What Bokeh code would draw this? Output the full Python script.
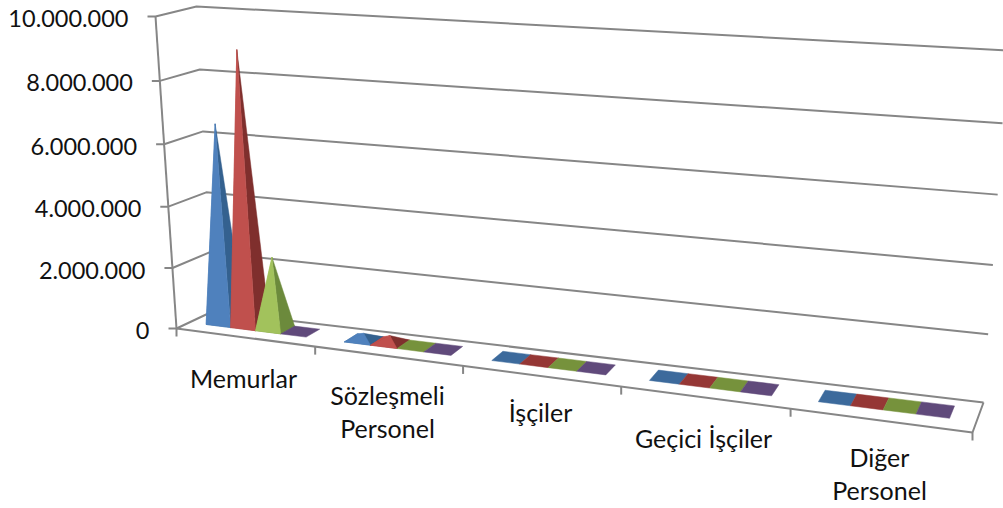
from bokeh.plotting import figure
from bokeh.core.properties import value
from bokeh.embed import file_html
from bokeh.resources import INLINE

categories = ["Memurlar", "Sözleşmeli\nPersonel", "İşçiler", "Geçici İşçiler", "Diğer\nPersonel"]
series_a = [6500000, 200000, 0, 0, 0]
series_b = [8900000, 230000, 0, 0, 0]
series_c = [2350000, 0, 0, 0, 0]
series_d = [0, 0, 0, 0, 0]
y_ticks = [0, 2000000, 4000000, 6000000, 8000000, 10000000]
y_labels = ["0", "2.000.000", "4.000.000", "6.000.000", "8.000.000", "10.000.000"]
y_max = 10000000

light = ["#4f81bd", "#c0504d", "#a2c25c", "#604a7b"]
dark = ["#34618f", "#7f2f2d", "#6c8a3c", "#604a7b"]
flat = ["#3c6a9c", "#953735", "#76923c", "#604a7b"]
grid_col = "#868686"
FONT = "Lato"

# perspective box: corners of the floor and the ceiling, in page pixels
F = {"fl": (176, 328), "fr": (972, 432), "bl": (212, 311), "br": (983, 402)}
T = {"fl": (155, 16), "fr": (998, 72), "bl": (196, 6), "br": (1007, 50)}
KU, KH = 0.185, 0.04


def proj(cat_pos, depth, val):
    """cat_pos in categories (0..n), depth 0..1, val in data units -> page pixels"""
    u = cat_pos / len(categories)
    u = u / (1 + KU * (1 - u))
    h = val / y_max
    h = h / (1 + KH * (1 - h))
    res = []
    for i in (0, 1):
        def bil(C):
            return ((1 - u) * (1 - depth) * C["fl"][i] + u * (1 - depth) * C["fr"][i]
                    + (1 - u) * depth * C["bl"][i] + u * depth * C["br"][i])
        res.append((1 - h) * bil(F) + h * bil(T))
    return res


def path(*pts):
    return [p[0] for p in pts], [p[1] for p in pts]


p = figure(width=1003, height=508, x_range=(0, 1003), y_range=(508, 0),
           output_backend="svg", toolbar_location=None, min_border=0,
           outline_line_color=None, background_fill_color="white",
           border_fill_color="white")
p.axis.visible = False
p.grid.visible = False

# walls, floor, ticks
lx, ly = [], []
for t in y_ticks:
    a = proj(0, 0, t)
    xs, ys = path((a[0] - 8, a[1]), a, proj(0, 1, t), proj(5, 1, t))
    lx.append(xs)
    ly.append(ys)
xs, ys = path(proj(0, 0, 0), proj(0, 0, y_max))
lx.append(xs); ly.append(ys)
xs, ys = path(proj(0, 0, 0), proj(5, 0, 0), proj(5, 1, 0))
lx.append(xs); ly.append(ys)
for i in range(6):
    a = proj(i, 0, 0)
    xs, ys = path(a, (a[0], a[1] + 8))
    lx.append(xs); ly.append(ys)
p.multi_line(lx, ly, line_color=grid_col, line_width=2)

# pyramids
V0, V1 = 0.36, 0.78
START, STEP = 0.125, 0.1825
for s, vals in enumerate([series_a, series_b, series_c, series_d]):
    for c, v in enumerate(vals):
        u0 = c + START + s * STEP
        u1 = u0 + STEP
        fl, fr, br, bl = proj(u0, V0, 0), proj(u1, V0, 0), proj(u1, V1, 0), proj(u0, V1, 0)
        apex = proj((u0 + u1) / 2, (V0 + V1) / 2, v)
        xs, ys = path(fl, fr, br, bl)
        p.patch(xs, ys, fill_color=flat[s], line_color=flat[s], line_width=0.5)
        if v > 0:
            for pts, col in (((bl, fl, apex), light[s]), ((fr, br, apex), dark[s]), ((fl, fr, apex), light[s])):
                xs, ys = path(*pts)
                p.patch(xs, ys, fill_color=col, line_color=col, line_width=0.5)

# value labels
tick_x = [proj(0, 0, t)[0] - 27 for t in y_ticks]
tick_y = [proj(0, 0, t)[1] + 2 for t in y_ticks]
p.text(tick_x, tick_y, text=y_labels, text_align="right", text_baseline="middle",
       text_font=value(FONT), text_font_size="23.5px", text_color="#111111")

# category labels
cat_x = [243, 387, 540, 703, 879]
cat_y = [377, 411, 411, 437, 473]
p.text(cat_x, cat_y, text=categories, text_align="center", text_baseline="middle",
       text_font=value(FONT), text_font_size="25px", text_color="#111111", text_line_height=1.12)

open("out.html", "w").write(file_html(p, INLINE))
